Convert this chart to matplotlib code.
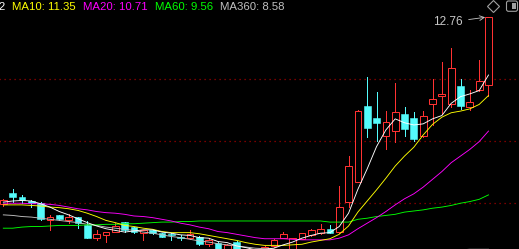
import numpy as np
import matplotlib.pyplot as plt
from matplotlib.patches import FancyBboxPatch, Rectangle

# daily candles, oldest first (prices)
opens = [9.39, 9.60, 9.53, 9.45, 9.41, 9.11, 9.19, 9.10, 9.16, 9.02,
         8.79, 8.83, 8.90, 9.07, 8.98, 8.87, 8.92, 8.87, 8.86, 8.80,
         8.78, 8.81, 8.67, 8.70, 8.57, 8.72, 8.55, 8.50, 8.55, 8.64,
         8.79, 8.57, 8.77, 8.83, 8.87, 8.95, 8.89, 9.44, 9.80, 11.16,
         10.95, 10.62, 10.71, 11.02, 10.95, 10.62, 11.20, 11.35, 11.20, 11.52,
         11.15, 11.45, 11.54]
highs = [9.48, 9.67, 9.55, 9.46, 9.43, 9.20, 9.20, 9.21, 9.17, 9.09,
         8.92, 8.89, 9.05, 9.07, 8.99, 8.93, 8.93, 8.88, 8.87, 8.83,
         8.93, 8.82, 8.78, 8.71, 8.68, 8.73, 8.57, 8.57, 8.64, 8.76,
         8.89, 8.79, 8.88, 8.95, 9.04, 9.02, 9.72, 10.26, 11.09, 11.69,
         11.42, 11.07, 11.58, 11.15, 11.05, 11.08, 11.64, 11.96, 12.21, 11.65,
         11.45, 11.99, 12.76]
lows = [9.36, 9.44, 9.42, 9.35, 9.11, 8.93, 9.10, 9.05, 8.97, 8.78,
        8.74, 8.72, 8.90, 8.90, 8.88, 8.74, 8.86, 8.80, 8.74, 8.75,
        8.77, 8.66, 8.64, 8.54, 8.53, 8.55, 8.48, 8.47, 8.53, 8.62,
        8.78, 8.55, 8.76, 8.82, 8.86, 8.87, 8.88, 9.35, 9.79, 10.61,
        10.54, 10.38, 10.52, 10.62, 10.54, 10.60, 10.82, 11.01, 11.14, 11.11,
        11.09, 11.44, 11.35]
closes = [9.47, 9.52, 9.46, 9.42, 9.12, 9.16, 9.12, 9.17, 9.06, 8.79,
          8.85, 8.89, 9.00, 8.93, 8.90, 8.92, 8.88, 8.81, 8.83, 8.78,
          8.86, 8.68, 8.74, 8.56, 8.66, 8.57, 8.50, 8.55, 8.63, 8.75,
          8.85, 8.78, 8.87, 8.92, 8.94, 8.88, 9.34, 10.08, 11.08, 10.77,
          10.86, 10.87, 11.05, 10.75, 10.56, 10.99, 11.29, 11.37, 11.84, 11.16,
          11.23, 11.61, 12.76]

# moving averages as drawn on the chart
ma5 = [9.43, 9.45, 9.46, 9.45, 9.40, 9.34, 9.26, 9.20, 9.13, 9.06,
       9.00, 8.95, 8.92, 8.89, 8.91, 8.93, 8.93, 8.89, 8.87, 8.84,
       8.83, 8.79, 8.78, 8.72, 8.70, 8.64, 8.61, 8.57, 8.58, 8.60,
       8.66, 8.71, 8.78, 8.83, 8.87, 8.88, 8.99, 9.23, 9.66, 10.03,
       10.43, 10.73, 10.93, 10.86, 10.82, 10.84, 10.93, 10.99, 11.21, 11.33,
       11.38, 11.44, 11.72]
ma10 = [9.38, 9.38, 9.38, 9.37, 9.36, 9.34, 9.33, 9.31, 9.28, 9.23,
        9.17, 9.10, 9.06, 9.01, 8.99, 8.96, 8.94, 8.90, 8.88, 8.88,
        8.88, 8.86, 8.83, 8.80, 8.77, 8.74, 8.70, 8.67, 8.65, 8.65,
        8.65, 8.66, 8.67, 8.71, 8.74, 8.77, 8.85, 9.00, 9.25, 9.45,
        9.65, 9.86, 10.08, 10.26, 10.42, 10.64, 10.83, 10.96, 11.04, 11.07,
        11.11, 11.19, 11.35]
ma20 = [9.41, 9.41, 9.41, 9.40, 9.40, 9.39, 9.37, 9.34, 9.31, 9.29,
        9.26, 9.24, 9.23, 9.21, 9.18, 9.17, 9.15, 9.12, 9.09, 9.05,
        9.02, 8.98, 8.95, 8.90, 8.88, 8.85, 8.82, 8.79, 8.77, 8.77,
        8.77, 8.76, 8.75, 8.75, 8.75, 8.75, 8.78, 8.84, 8.95, 9.05,
        9.15, 9.26, 9.38, 9.49, 9.58, 9.70, 9.84, 9.98, 10.14, 10.26,
        10.38, 10.52, 10.71]
ma60 = [8.96, 8.96, 8.98, 8.99, 8.99, 9.00, 9.01, 9.01, 9.01, 9.02,
        9.02, 9.03, 9.03, 9.04, 9.04, 9.05, 9.06, 9.07, 9.07, 9.08,
        9.08, 9.09, 9.09, 9.09, 9.09, 9.09, 9.09, 9.09, 9.09, 9.09,
        9.09, 9.09, 9.09, 9.09, 9.09, 9.07, 9.07, 9.07, 9.12, 9.14,
        9.17, 9.19, 9.21, 9.25, 9.27, 9.29, 9.32, 9.34, 9.37, 9.41,
        9.44, 9.48, 9.56]
ma360 = [9.20, 9.19, 9.17, 9.16, 9.14, 9.12, 9.10, 9.08, 9.06, 9.03,
         9.01, 8.98, 8.96, 8.94, 8.92, 8.89, 8.87, 8.84, 8.81, 8.79,
         8.76, 8.73, 8.71, 8.68, 8.66, 8.64, 8.62, 8.60, 8.59, 8.58,
         8.57, 8.56, 8.56, 8.56, 8.56, 8.56, 8.56, 8.56, 8.56, 8.56,
         8.56, 8.56, 8.56, 8.56, 8.56, 8.56, 8.57, 8.57, 8.57, 8.57,
         8.58, 8.58, 8.58]

ma_labels = ['MA5: 11.72', 'MA10: 11.35', 'MA20: 10.71', 'MA60: 9.56', 'MA360: 8.58']
grid_levels = [11.64, 10.53, 9.42]

W, H = 519, 249
red = '#ff3232'
cyan = '#54fcfc'
ma_colors = ['#ffffff', '#ffff00', '#ff00ff', '#00ff00', '#c0c0c0']
plt.rcParams['font.family'] = ['Liberation Sans', 'DejaVu Sans']

fig = plt.figure(figsize=(W / 100, H / 100), dpi=100)
fig.patch.set_facecolor('black')
ax = fig.add_axes([0, 0, 1, 1])
ax.set_facecolor('black')
ax.set_axis_off()

o = np.array(opens)
c = np.array(closes)
hi = np.array(highs)
lo = np.array(lows)
x = np.arange(len(c))
up = c >= o
top = np.maximum(o, c)
bot = np.minimum(o, c)
bw = 0.72
px = 0.72  # one pixel in points

ax.hlines(grid_levels, -1, len(c) + 5, colors='#a00000', linestyles=(0, (1, 3)),
          lw=0.9, zorder=0)

# wicks
ax.vlines(x[up], top[up], hi[up], color=red, lw=px, antialiased=False, zorder=2)
ax.vlines(x[up], lo[up], bot[up], color=red, lw=px, antialiased=False, zorder=2)
ax.vlines(x[~up], lo[~up], hi[~up], color=cyan, lw=px, antialiased=False, zorder=2)
# bodies
ax.bar(x[up], np.maximum(top[up] - bot[up], 0.012), bottom=bot[up], width=bw,
       facecolor='black', edgecolor=red, lw=px, zorder=3)
ax.bar(x[~up], np.maximum(top[~up] - bot[~up], 0.012), bottom=bot[~up], width=bw,
       facecolor=cyan, edgecolor=cyan, lw=0.4, zorder=3)

for ma, col in zip([ma360, ma60, ma20, ma10, ma5], ma_colors[::-1]):
    ax.plot(x, ma, color=col, lw=0.65, zorder=4)

ax.set_xlim(-0.357, 55.27)
ax.set_ylim(8.585, 13.072)

ax.annotate(f'{highs[-1]:.2f}', xy=(x[-1] - bw / 2, hi[-1]), xytext=(-22, -5),
            textcoords='offset pixels', ha='right', va='center', color='#c8c8c8',
            fontsize=8.5,
            arrowprops=dict(arrowstyle='->', color='#c8c8c8', lw=0.6,
                            shrinkA=2, shrinkB=0))

# legend row across the top
label_x = [5, 11.7, 83, 155, 219.7]
for i, (s, col, lx) in enumerate(zip(ma_labels, ma_colors, label_x)):
    fig.text(lx / W, 1 - 10.3 / H, s, color=col, fontsize=8.2,
             ha='right' if i == 0 else 'left', va='baseline')

# toolbar icons, top right
ov = fig.add_axes([0, 0, 1, 1])
ov.set_xlim(0, W)
ov.set_ylim(H, 0)
ov.set_axis_off()
ov.patch.set_alpha(0)
ov.plot(493, 6.3, marker='D', ms=6.5, mfc='none', mec='#a0a0a0', mew=0.8)
ov.add_patch(FancyBboxPatch((506.5, 1), 11, 10.3,
                            boxstyle='round,pad=0,rounding_size=2',
                            ec='#a0a0a0', fc='none', lw=0.8))
ov.add_patch(Rectangle((511.7, 2.8), 4, 6.5, fc='#a0a0a0', ec='none'))

fig.savefig('out.png', dpi=100, facecolor='black')
